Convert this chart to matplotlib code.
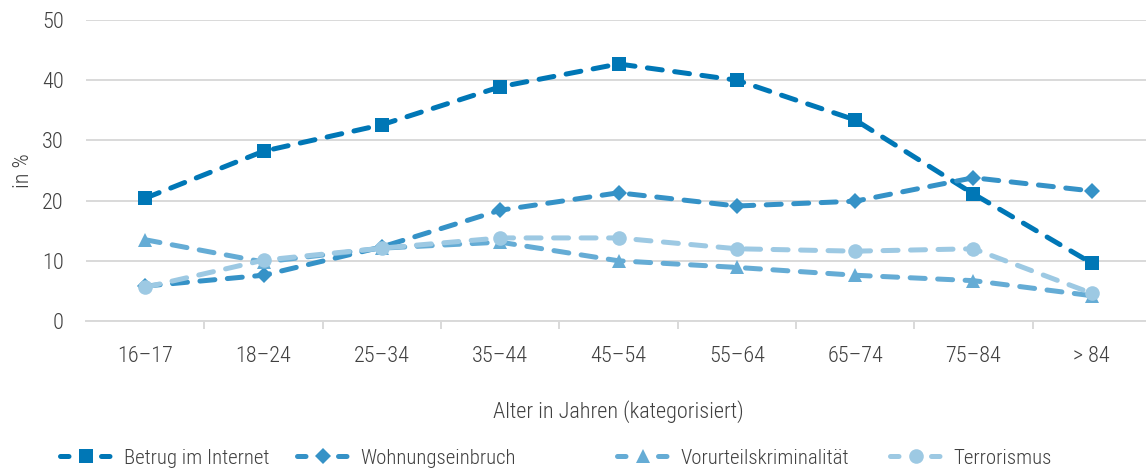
import matplotlib
matplotlib.use("Agg")
import matplotlib.pyplot as plt
from matplotlib import font_manager
from matplotlib.font_manager import FontProperties
from matplotlib.lines import Line2D

# Age groups and shares (in %) per offence type
age_groups = ["16–17", "18–24", "25–34", "35–44", "45–54", "55–64", "65–74", "75–84", "> 84"]
betrug_internet = [20.4, 28.2, 32.6, 38.9, 42.7, 40.0, 33.4, 21.1, 9.6]
wohnungseinbruch = [5.8, 7.6, 12.3, 18.4, 21.3, 19.1, 19.9, 23.8, 21.6]
vorurteilskriminalitaet = [13.5, 9.8, 12.1, 13.1, 10.0, 8.9, 7.6, 6.7, 4.2]
terrorismus = [5.6, 10.1, 12.1, 13.8, 13.8, 12.0, 11.6, 12.0, 4.6]

series_names = ["Betrug im Internet", "Wohnungseinbruch", "Vorurteilskriminalität", "Terrorismus"]
y_ticks = [0, 10, 20, 30, 40, 50]


def pick_narrow_font():
    """Return the path of a condensed sans-serif face, preferring a light weight."""
    prefs = ["Roboto", "Noto Sans", "Open Sans", "Liberation Sans", "DejaVu Sans", "Lato", "Inter"]
    best = None
    for f in font_manager.fontManager.ttflist:
        name = f.name
        if "CJK" in name or "Mono" in name or "Serif" in name or f.style != "normal":
            continue
        narrow = (f.stretch in ("condensed", "semi-condensed", "extra-condensed")
                  or "Condensed" in name or "Narrow" in name)
        if not narrow:
            continue
        base = next((i for i, p in enumerate(prefs) if name.startswith(p)), len(prefs))
        try:
            w = int(f.weight)
        except (TypeError, ValueError):
            w = 400
        stretch_rank = 0 if (f.stretch == "condensed" or "Condensed" in name or "Narrow" in name) else 1
        score = (base, stretch_rank, abs(w - 300))
        if best is None or score < best[0]:
            best = (score, f.fname)
    return best[1] if best else None


path = pick_narrow_font()
if path:
    fp = lambda size: FontProperties(fname=path, size=size)
else:
    fp = lambda size: FontProperties(family="DejaVu Sans", size=size)

text_color = "#404040"
grid_color = "#d9d9d9"
colors = ["#0077b6", "#3592c7", "#65acd5", "#9dc9e3"]
markers = ["s", "D", "^", "o"]
msizes = [10.5, 8.5, 10.5, 10.5]
font_size = 16
line_width = 3.6

fig = plt.figure(figsize=(11.46, 4.70), dpi=100)
ax = fig.add_axes([86 / 1146, 149 / 470, 1065 / 1146, 301 / 470])

x = list(range(len(age_groups)))
values = [betrug_internet, wohnungseinbruch, vorurteilskriminalitaet, terrorismus]
for vals, name, c, m, ms in zip(values, series_names, colors, markers, msizes):
    (ln,) = ax.plot(
        x, vals, color=c, lw=line_width, marker=m, markersize=ms,
        markeredgewidth=0, label=name, dash_capstyle="round",
    )
    ln.set_dashes((3.0, 2.5))

ax.set_xlim(-0.5, len(age_groups) - 0.5)
ax.set_ylim(0, 50)
ax.set_yticks(y_ticks)
ax.yaxis.grid(True, color=grid_color, lw=1.4)
ax.set_axisbelow(True)
for s in ["top", "right", "left"]:
    ax.spines[s].set_visible(False)
ax.spines["bottom"].set_color(grid_color)
ax.spines["bottom"].set_linewidth(1.4)

ax.set_xticks(x)
ax.set_xticklabels(age_groups)
ax.set_xticks([i + 0.5 for i in range(len(age_groups) - 1)], minor=True)
ax.tick_params(axis="x", which="major", length=0, pad=18, labelcolor=text_color)
ax.tick_params(axis="x", which="minor", length=6, width=1.4, color=grid_color)
ax.tick_params(axis="y", length=0, pad=16, labelcolor=text_color)
for lab in ax.get_xticklabels() + ax.get_yticklabels():
    lab.set_fontproperties(fp(font_size))

ax.set_xlabel("Alter in Jahren (kategorisiert)", fontproperties=fp(font_size),
              color=text_color, labelpad=24)
ax.set_ylabel("in %", fontproperties=fp(font_size), color=text_color, labelpad=6)

# Legend keys: short dash, marker, short dash
legend_x = [60, 297, 617, 890]
for name, c, m, ms, lx in zip(series_names, colors, markers, msizes, legend_x):
    key = Line2D([], [], color=c, lw=line_width, marker=m, markersize=ms,
                 markeredgewidth=0, dash_capstyle="round")
    key.set_dashes((1.7, 6.5))
    fig.legend(
        handles=[key], labels=[name], loc="center left",
        bbox_to_anchor=(lx / 1146, 12 / 470), frameon=False, prop=fp(15),
        labelcolor=text_color, handlelength=2.5, handletextpad=0.55,
        borderpad=0, borderaxespad=0,
    )

fig.savefig("out.png", dpi=100)
